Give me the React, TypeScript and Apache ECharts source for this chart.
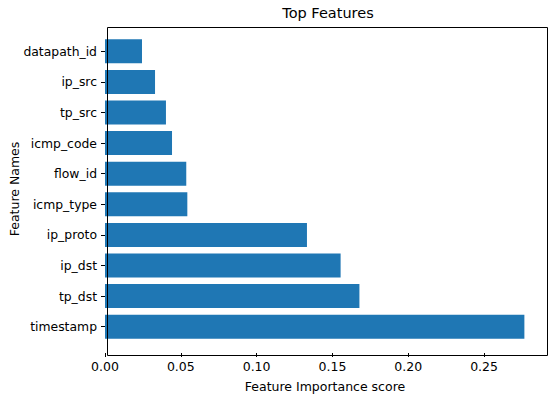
import React, { useEffect, useRef } from "react";
import * as echarts from "echarts";

const categories = [
  "datapath_id",
  "ip_src",
  "tp_src",
  "icmp_code",
  "flow_id",
  "icmp_type",
  "ip_proto",
  "ip_dst",
  "tp_dst",
  "timestamp",
];
const importance = [0.0244, 0.033, 0.0402, 0.0442, 0.0536, 0.0543, 0.1332, 0.1554, 0.1678, 0.2766];
const xTicks = [0, 0.05, 0.1, 0.15, 0.2, 0.25];

const FONT = "DejaVu Sans";

export default function App() {
  const ref = useRef<HTMLDivElement>(null);
  useEffect(() => {
    if (!ref.current) return;
    const chart = echarts.init(ref.current, undefined, { renderer: "svg" });
    chart.setOption({
      animation: false,
      backgroundColor: "#ffffff",
      title: {
        text: "Top Features",
        left: 323,
        top: 0,
        textAlign: "center",
        textStyle: { fontFamily: FONT, fontSize: 14.5, fontWeight: "normal", color: "#000" },
      },
      grid: { left: 105, right: 5, top: 36, bottom: 54, containLabel: false, outerBoundsMode: "none" },
      xAxis: {
        type: "value",
        min: 0,
        max: 0.2902,
        offset: 11,
        name: "Feature Importance score",
        nameLocation: "middle",
        nameGap: 27,
        nameMoveOverlap: false,
        nameTextStyle: { fontFamily: FONT, fontSize: 12.5, color: "#000" },
        axisLine: { show: false },
        splitLine: { show: false },
        axisTick: {
          show: true,
          length: 4,
          customValues: xTicks,
          lineStyle: { color: "#000", width: 1 },
        },
        axisLabel: {
          customValues: xTicks,
          margin: 7,
          fontFamily: FONT,
          fontSize: 12.5,
          color: "#000",
          formatter: (v: number) => v.toFixed(2),
        },
      },
      yAxis: {
        type: "category",
        data: categories,
        inverse: true,
        name: "Feature Names",
        nameLocation: "middle",
        nameGap: 84,
        nameMoveOverlap: false,
        nameTextStyle: { fontFamily: FONT, fontSize: 12.5, color: "#000" },
        axisLine: { show: false },
        axisTick: { show: true, alignWithLabel: true, length: 4, lineStyle: { color: "#000", width: 1 } },
        axisLabel: { margin: 8, fontFamily: FONT, fontSize: 12.4, color: "#000" },
        splitLine: { show: false },
      },
      series: [
        {
          type: "bar",
          data: importance,
          barWidth: 24,
          itemStyle: { color: "#1f77b4" },
        },
      ],
      graphic: [
        {
          type: "rect",
          left: 105,
          top: 25,
          shape: { x: 0, y: 0, width: 440, height: 328 },
          style: { fill: "none", stroke: "#000", lineWidth: 1 },
          silent: true,
          z: 10,
        },
      ],
    });
    return () => chart.dispose();
  }, []);
  return (
    <div
      ref={ref}
      style={{ position: "fixed", left: 0, top: 0, width: 550, height: 396 }}
    />
  );
}
